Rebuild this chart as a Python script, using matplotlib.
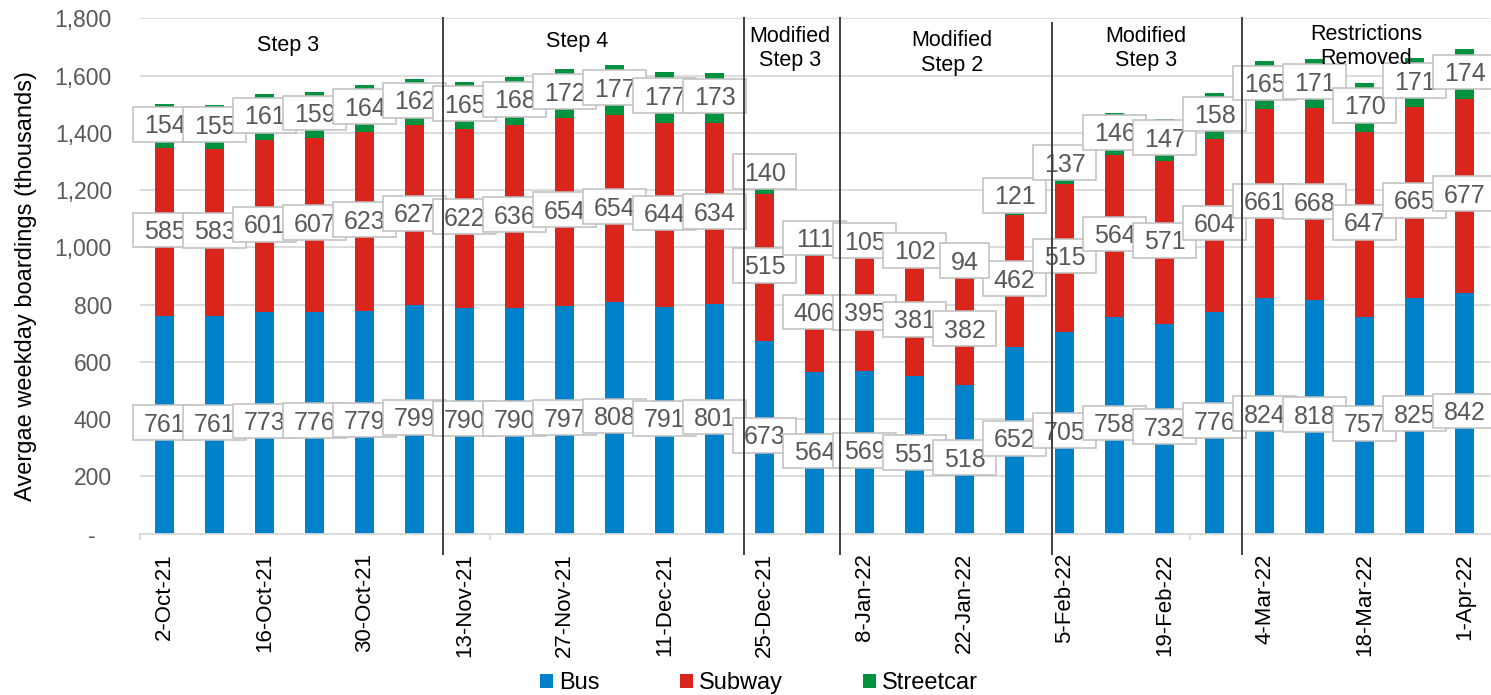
import numpy as np
import matplotlib
matplotlib.use("Agg")
import matplotlib.pyplot as plt
from matplotlib.patches import Patch, Rectangle
from matplotlib.transforms import Affine2D, ScaledTranslation

plt.rcParams["font.family"] = ["Liberation Sans", "DejaVu Sans"]

# Weekly average weekday boardings (thousands)
weeks = ["2-Oct-21", "9-Oct-21", "16-Oct-21", "23-Oct-21", "30-Oct-21", "6-Nov-21",
         "13-Nov-21", "20-Nov-21", "27-Nov-21", "4-Dec-21", "11-Dec-21", "18-Dec-21",
         "25-Dec-21", "1-Jan-22", "8-Jan-22", "15-Jan-22", "22-Jan-22", "29-Jan-22",
         "5-Feb-22", "12-Feb-22", "19-Feb-22", "26-Feb-22", "4-Mar-22", "11-Mar-22",
         "18-Mar-22", "25-Mar-22", "1-Apr-22"]
bus = [761, 761, 773, 776, 779, 799, 790, 790, 797, 808, 791, 801, 673, 564,
       569, 551, 518, 652, 705, 758, 732, 776, 824, 818, 757, 825, 842]
subway = [585, 583, 601, 607, 623, 627, 622, 636, 654, 654, 644, 634, 515, 406,
          395, 381, 382, 462, 515, 564, 571, 604, 661, 668, 647, 665, 677]
streetcar = [154, 155, 161, 159, 164, 162, 165, 168, 172, 177, 177, 173, 140, 111,
             105, 102, 94, 121, 137, 146, 147, 158, 165, 171, 170, 171, 174]
series_names = ["Bus", "Subway", "Streetcar"]
phases = ["Step 3", "Step 4", "Modified\nStep 3", "Modified\nStep 2",
          "Modified\nStep 3", "Restrictions\nRemoved"]

colors = ["#0082CA", "#DA251D", "#00923F"]
LABEL_GREY = "#595959"
GRID_GREY = "#D9D9D9"

fig = plt.figure(figsize=(14.91, 6.95), dpi=100)
ax = fig.add_axes([0.0937, 0.2321, 0.9054, 0.7414])

x = np.arange(len(weeks))
bus_a = np.array(bus)
sub_a = np.array(subway)
st_a = np.array(streetcar)
bottoms = [np.zeros_like(bus_a), bus_a, bus_a + sub_a]
values = [bus_a, sub_a, st_a]

for vals, bot, col, name in zip(values, bottoms, colors, series_names):
    ax.bar(x, vals, bottom=bot, width=0.39, color=col, zorder=2, label=name)

# value labels in white boxes, centred on each segment
pts_to_disp = Affine2D().scale(1 / 72) + fig.dpi_scale_trans
fs_lab = 18
z = 10
for vals, bot in zip(values, bottoms):
    for xi, v, b in zip(x, vals, bot):
        yc = b + v / 2
        s = str(int(v))
        w = 0.556 * fs_lab * len(s) + 15
        h = 25
        tr = pts_to_disp + ScaledTranslation(xi, yc, ax.transData)
        ax.add_patch(Rectangle((-w / 2, -h / 2 + 1.5), w, h, transform=tr,
                               facecolor="white", edgecolor="#BFBFBF", lw=1.1,
                               zorder=z, clip_on=False))
        ax.text(xi, yc, s, ha="center", va="center", fontsize=fs_lab,
                color=LABEL_GREY, zorder=z + 0.5, clip_on=False)
        z += 1

ax.set_xlim(-0.5, len(weeks) - 0.5)
ax.set_ylim(0, 1800)
yt = np.arange(0, 1801, 200)
ax.set_yticks(yt)
ax.set_yticklabels([f"{v:,}" if v else "-" for v in yt])
ax.set_axisbelow(True)
ax.yaxis.grid(True, color=GRID_GREY, lw=1.3)
for sp in ["left", "right", "top"]:
    ax.spines[sp].set_visible(False)
ax.spines["bottom"].set_color(GRID_GREY)
ax.spines["bottom"].set_linewidth(1.3)

ax.set_xticks(x[::2])
ax.set_xticklabels(weeks[::2], rotation=90, fontsize=16)
ax.set_xticks([-0.5, 6.5, 13.5, 20.5], minor=True)
ax.tick_params(axis="x", which="major", length=0, pad=14, labelcolor="black")
ax.tick_params(axis="x", which="minor", length=4.5, width=1.3, color=GRID_GREY)
ax.tick_params(axis="y", length=0, pad=20, labelsize=16.5, labelcolor=LABEL_GREY)

zero_tick = ax.yaxis.get_major_ticks()[0]
zero_tick.label1.set_transform(zero_tick.label1.get_transform()
                               + ScaledTranslation(-0.16, 0, fig.dpi_scale_trans))

ax.set_ylabel("Avergae weekday boardings (thousands)", fontsize=17)
ax.yaxis.set_label_coords(-0.076, 0.48)

# phase separators and phase names
bounds = [5.57, 11.59, 13.51, 17.74, 21.54]
tops = [1800, 1800, 1800, 1784, 1800]
for xb, yt_ in zip(bounds, tops):
    ax.plot([xb, xb], [-72, yt_], color="#404040", lw=1.4, clip_on=False, zorder=100)

phase_pos = [(2.47, 1704), (8.25, 1719), (12.51, 1694), (15.75, 1679),
             (19.63, 1696), (24.03, 1702)]
for name, (px, py) in zip(phases, phase_pos):
    ax.text(px, py, name, ha="center", va="center", fontsize=15.5,
            linespacing=1.2, zorder=101, color="black")

handles = [Patch(facecolor=c, edgecolor="none") for c in colors]
fig.legend(handles, series_names, loc="center", bbox_to_anchor=(0.509, 0.0173),
           ncol=3, frameon=False, fontsize=17, handlelength=0.55,
           handleheight=0.55, handletextpad=0.25, columnspacing=3.4, borderpad=0)

fig.savefig("out.png", dpi=100)
